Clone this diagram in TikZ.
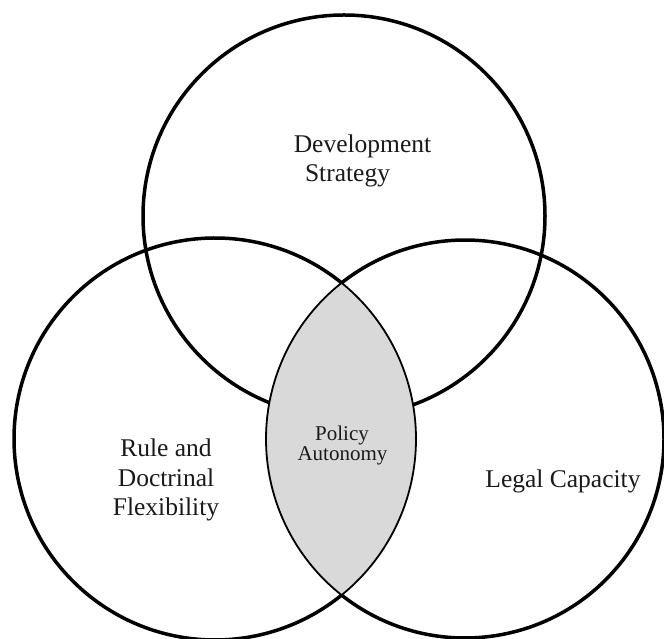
\documentclass[tikz,border=0pt]{standalone}
\usepackage{fontspec}
\setmainfont{Liberation Serif}
\definecolor{lensgray}{HTML}{D9D9D9}
\definecolor{txt}{HTML}{1A1A1A}
\tikzset{
  ring/.style={draw=black, line width=3.5pt},
  lensedge/.style={draw=black, line width=1.8pt, fill=lensgray},
  bigtxt/.style={anchor=base, inner sep=0pt, text=txt, font=\fontsize{25.5}{30}\selectfont},
  smalltxt/.style={anchor=base, inner sep=0pt, text=txt, font=\fontsize{21}{24}\selectfont},
}
\begin{document}
\begin{tikzpicture}[x=1pt,y=1pt]
\useasboundingbox (0,0) rectangle (664,639);
\clip (0,0) rectangle (664,639);
\fill[white] (0,0) rectangle (664,639);
% circle centres
\coordinate (top) at (344,423);
\coordinate (left) at (215,200);
\coordinate (right) at (465,200);
% top circle
\draw[ring] (top) circle[radius=201pt];
% left circle, outer arc
\draw[ring] ([shift={(50.96:201pt)}]left) arc[start angle=50.96, end angle=309.04, radius=201pt];
% right circle, outer arc
\draw[ring] ([shift={(-128.33:199pt)}]right) arc[start angle=-128.33, end angle=128.33, radius=199pt];
% shaded lens
\path[lensedge] ([shift={(128.33:199pt)}]right) arc[start angle=128.33, end angle=231.67, radius=199pt]
   arc[start angle=-50.96, end angle=50.96, radius=201pt] -- cycle;
% labels
\node[bigtxt] (dev1) at (362.5,486) {Development};
\node[bigtxt] (dev2) at (347.5,457) {Strategy};
\node[bigtxt] (rule1) at (166,182) {Rule and};
\node[bigtxt] (rule2) at (166,152) {Doctrinal};
\node[bigtxt] (rule3) at (166,123) {Flexibility};
\node[bigtxt] (legal) at (563,151) {Legal Capacity};
\node[smalltxt] (pol1) at (342,198) {Policy};
\node[smalltxt] (pol2) at (342.5,178) {Autonomy};
\end{tikzpicture}
\end{document}
